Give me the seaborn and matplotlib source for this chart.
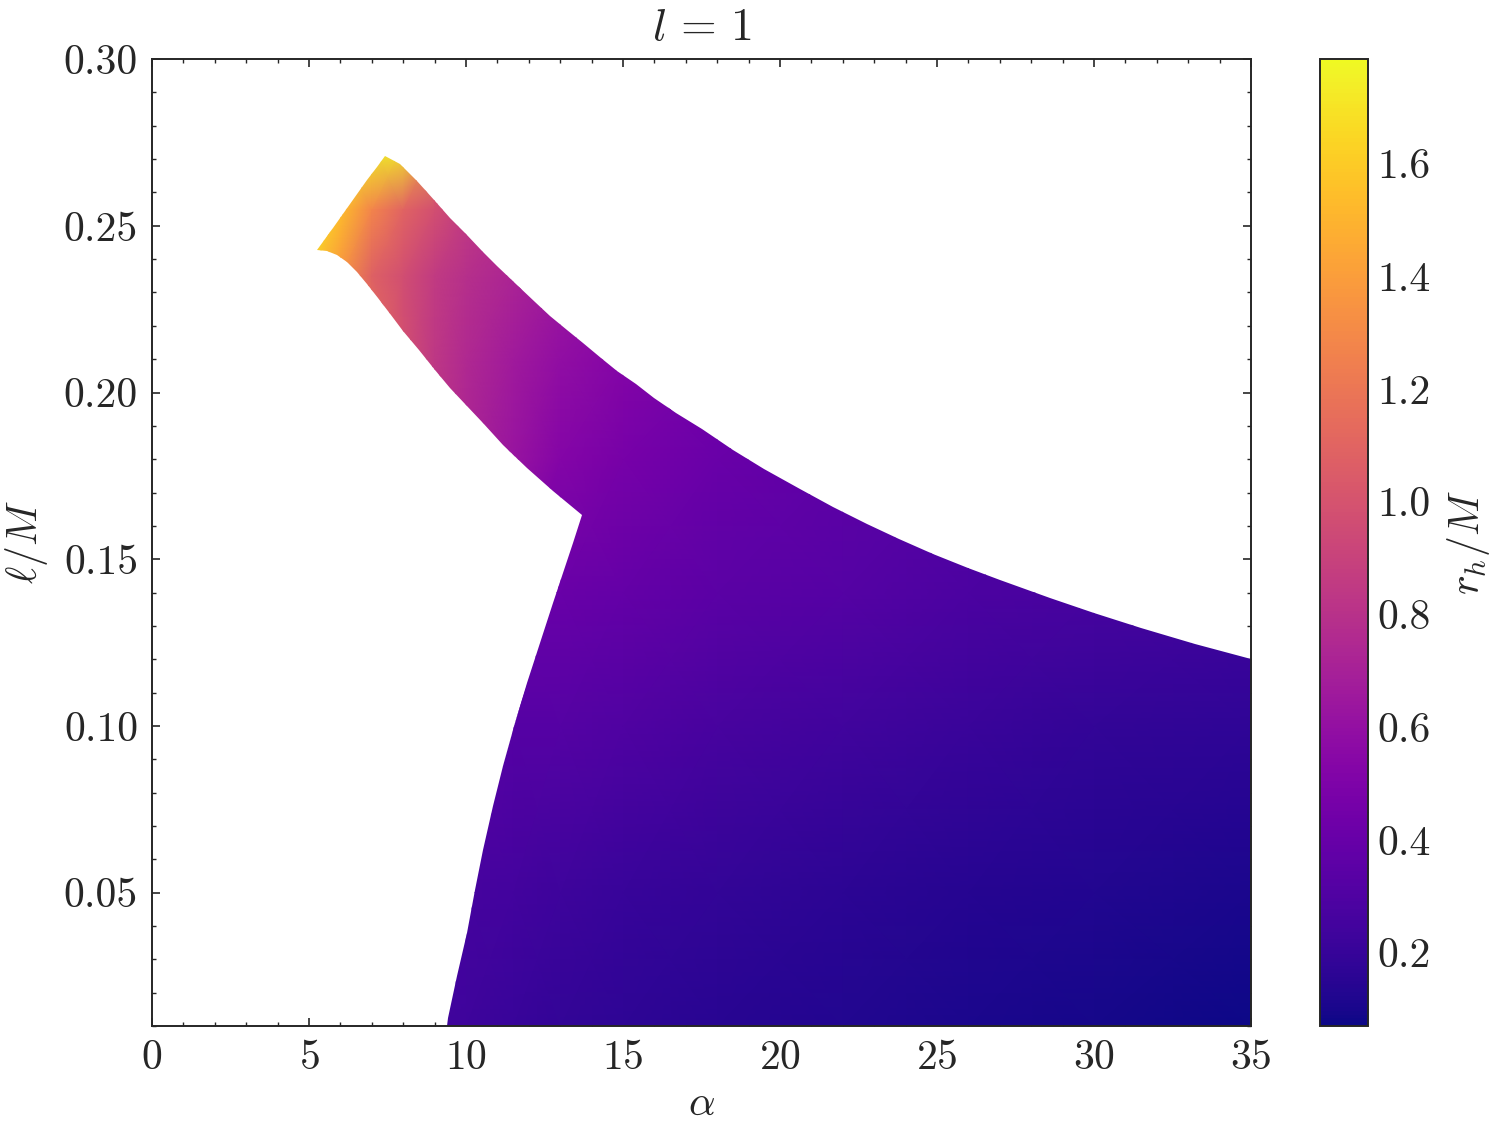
import numpy as np
import matplotlib
matplotlib.use('Agg')
import matplotlib.pyplot as plt
import seaborn as sns
from matplotlib.patches import Polygon
from matplotlib.ticker import MultipleLocator, FormatStrFormatter

alpha_nodes = [5, 6, 7, 8, 9, 10, 11.5, 13, 15, 18, 22, 26, 30, 35]
ell_nodes = [0.01, 0.05, 0.10, 0.14, 0.18, 0.21, 0.235, 0.255, 0.275, 0.30]
rh_values = [
    [0.32, 0.30, 0.28, 0.26, 0.24, 0.225, 0.205, 0.19, 0.17, 0.15, 0.125, 0.107, 0.092, 0.075],
    [0.38, 0.35, 0.32, 0.30, 0.28, 0.26, 0.245, 0.23, 0.21, 0.185, 0.16, 0.14, 0.125, 0.11],
    [0.55, 0.50, 0.45, 0.41, 0.38, 0.355, 0.33, 0.32, 0.30, 0.27, 0.24, 0.215, 0.19, 0.175],
    [0.90, 0.80, 0.68, 0.58, 0.50, 0.45, 0.42, 0.41, 0.39, 0.35, 0.32, 0.29, 0.265, 0.24],
    [1.50, 1.30, 1.10, 0.95, 0.82, 0.72, 0.62, 0.53, 0.47, 0.41, 0.36, 0.32, 0.29, 0.26],
    [1.60, 1.45, 1.20, 0.98, 0.84, 0.75, 0.66, 0.59, 0.53, 0.45, 0.38, 0.34, 0.31, 0.28],
    [1.62, 1.35, 1.08, 0.97, 0.86, 0.79, 0.72, 0.64, 0.56, 0.47, 0.40, 0.35, 0.32, 0.29],
    [1.72, 1.55, 1.28, 1.10, 0.98, 0.86, 0.76, 0.67, 0.58, 0.49, 0.41, 0.36, 0.33, 0.30],
    [1.80, 1.85, 1.85, 1.75, 1.15, 0.90, 0.79, 0.69, 0.60, 0.50, 0.42, 0.37, 0.335, 0.305],
    [1.80, 1.85, 1.85, 1.80, 1.30, 0.95, 0.82, 0.71, 0.62, 0.51, 0.43, 0.38, 0.34, 0.31],
]

# boundary of the region where horizons exist
left_alpha = [5.25, 5.77, 6.31, 6.84, 7.16, 7.42]
left_ell = [0.2427, 0.2494, 0.2565, 0.2637, 0.2677, 0.2709]
upper_alpha = [7.9, 8.44, 9.0, 9.49, 10.0, 10.54, 11.0, 11.62, 12.2, 12.68, 13.2,
               13.73, 14.3, 14.81, 15.4, 16.0, 16.7, 17.5, 18.5, 19.5, 20.64, 21.7,
               22.77, 23.8, 24.87, 26.0, 27.01, 28.6, 30.0, 31.5, 33.2, 35.0]
upper_ell = [0.2684, 0.2634, 0.2575, 0.2524, 0.2474, 0.2421, 0.2378, 0.2321,
             0.2270, 0.2230, 0.2188, 0.2147, 0.2103, 0.2066, 0.2025, 0.1985, 0.1940,
             0.1890, 0.1828, 0.1771, 0.1710, 0.1657, 0.1606, 0.1561, 0.1517, 0.1474,
             0.1438, 0.1384, 0.1339, 0.1294, 0.1246, 0.1200]
lower_alpha = [13.70, 13.42, 13.10, 12.78, 12.36, 11.93, 11.56, 11.19, 10.87, 10.55,
               10.29, 10.02, 9.72, 9.44, 9.40]
lower_ell = [0.1633, 0.1548, 0.1458, 0.1368, 0.1248, 0.1129, 0.1009, 0.0879, 0.0759,
             0.0629, 0.0509, 0.0379, 0.0249, 0.0124, 0.0101]
inner_alpha = [5.25, 5.56, 5.88, 6.20, 6.52, 6.84, 7.2, 7.6, 8.0, 8.5, 9.0, 9.5,
               10.0, 10.55, 11.19, 11.93, 12.78, 13.70]
inner_ell = [0.2427, 0.2425, 0.2413, 0.2392, 0.2362, 0.2325, 0.2282, 0.2233, 0.2184,
             0.2126, 0.2069, 0.2015, 0.1964, 0.1908, 0.1843, 0.1775, 0.1705, 0.1633]

sns.set_theme(style='ticks', rc={
    'axes.linewidth': 0.7,
    'xtick.direction': 'in', 'ytick.direction': 'in',
    'xtick.top': True, 'ytick.right': True,
    'xtick.minor.visible': True, 'ytick.minor.visible': True,
    'xtick.major.size': 2.9, 'ytick.major.size': 2.9,
    'xtick.minor.size': 1.5, 'ytick.minor.size': 1.5,
    'xtick.major.width': 0.6, 'ytick.major.width': 0.6,
    'xtick.minor.width': 0.5, 'ytick.minor.width': 0.5,
})
plt.rcParams['font.family'] = 'serif'
plt.rcParams['font.serif'] = ['cmr10', 'DejaVu Serif']
plt.rcParams['mathtext.fontset'] = 'cm'
plt.rcParams['axes.formatter.use_mathtext'] = True

fs = 15
fig = plt.figure(figsize=(7.495, 5.68), dpi=200)
ax = fig.add_axes([0.1014, 0.0968, 0.7332, 0.8512])
cax = fig.add_axes([0.8806, 0.0968, 0.032, 0.8512])

A, L = np.meshgrid(alpha_nodes, ell_nodes)
cmap = sns.color_palette('plasma', as_cmap=True)
mesh = ax.pcolormesh(A, L, np.array(rh_values), shading='gouraud', cmap=cmap,
                     vmin=0.07, vmax=1.785, rasterized=True)

outline = (list(zip(left_alpha, left_ell)) + list(zip(upper_alpha, upper_ell))
           + [(35.0, 0.0101)] + list(zip(lower_alpha[::-1], lower_ell[::-1]))
           + list(zip(inner_alpha[::-1], inner_ell[::-1])))
clip = Polygon(outline, closed=True, transform=ax.transData)
mesh.set_clip_path(clip)

ax.set_xlim(0, 35)
ax.set_ylim(0.01, 0.30)
ax.xaxis.set_major_locator(MultipleLocator(5))
ax.xaxis.set_minor_locator(MultipleLocator(1))
ax.yaxis.set_major_locator(MultipleLocator(0.05))
ax.yaxis.set_minor_locator(MultipleLocator(0.01))
ax.yaxis.set_major_formatter(FormatStrFormatter('%.2f'))
ax.tick_params(labelsize=fs, pad=5)
ax.set_xlabel(r'$\alpha$', fontsize=fs, labelpad=3)
ax.set_ylabel(r'$\ell/M$', fontsize=fs, labelpad=5)
ax.set_title(r'$l\,=\,1$', fontsize=16.5, pad=7)

cbar = fig.colorbar(mesh, cax=cax)
cbar.outline.set_linewidth(0.7)
cbar.set_ticks([0.2, 0.4, 0.6, 0.8, 1.0, 1.2, 1.4, 1.6])
cbar.ax.yaxis.set_major_formatter(FormatStrFormatter('%.1f'))
cbar.ax.yaxis.set_minor_locator(MultipleLocator(0.05))
cbar.ax.tick_params(which='both', direction='in', right=True, left=False, labelsize=fs)
cbar.set_label(r'$r_h/M$', fontsize=fs, labelpad=5)

fig.savefig('out.png', dpi=200)
